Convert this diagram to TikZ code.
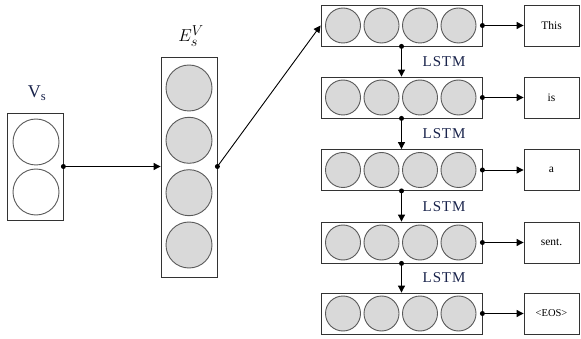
\documentclass[tikz,border=0pt]{standalone}
\usepackage{fontspec}
\setmainfont{Liberation Serif}
\usetikzlibrary{arrows.meta,calc}
\definecolor{txtblue}{RGB}{25,35,75}
\definecolor{cfill}{RGB}{217,217,217}
\definecolor{cline}{RGB}{90,90,90}
\tikzset{
  frame/.style={draw=black!80, line width=0.8pt, fill=white, inner sep=0pt},
  wcirc/.style={circle, draw=cline, line width=0.9pt, fill=white, minimum size=46pt, inner sep=0pt},
  gcirc/.style={circle, draw=cline, line width=0.9pt, fill=cfill, minimum size=46pt, inner sep=0pt},
  scirc/.style={circle, draw=cline, line width=0.9pt, fill=cfill, minimum size=35pt, inner sep=0pt},
  lbox/.style={frame, minimum width=161pt, minimum height=41pt},
  wbox/.style={frame, minimum width=55pt, minimum height=41pt, font=\fontsize{11.5}{12}\selectfont},
  conn/.style={line width=0.9pt, -{Triangle[length=7pt,width=7pt]}},
  dotc/.style={circle, fill=black, minimum size=5pt, inner sep=0pt},
  lstm/.style={font=\fontsize{15}{16}\selectfont\addfontfeatures{LetterSpace=6}, text=txtblue, inner sep=0pt},
}
\begin{document}
\begin{tikzpicture}[x=1pt,y=-1pt]
\useasboundingbox (0,0) rectangle (581,339);
% V_s
\node[frame, minimum width=56pt, minimum height=107pt] (vsbox) at (35,166.5) {};
\node[wcirc] (vs1) at (36,142) {};
\node[wcirc] (vs2) at (36,192) {};
\node[text=txtblue, font=\fontsize{18}{20}\selectfont] (vslab) at (37,93) {V\textsubscript{s}};
% E_s^V
\node[frame, minimum width=56pt, minimum height=220pt] (ebox) at (189,167) {};
\foreach \i/\y in {1/88,2/140.3,3/192.7,4/245}{
  \node[gcirc] (e\i) at (189,\y) {};
}
\node[font=\fontsize{19}{21}\selectfont] (elab) at (191,36) {$E_s^V$};
% connector Vs -> E
\node[dotc] (d0) at (vsbox.east) {};
\draw[conn] (d0.center) -- (ebox.west |- d0);
\node[dotc] (d1) at (ebox.east |- d0) {};
% LSTM boxes
\foreach \i/\y/\w in {1/25.5/This,2/97.5/is,3/170/a,4/242.5/sent.,5/313.5/{\fontsize{10.5}{12}\selectfont<EOS>}}{
  \node[lbox] (l\i) at (401.5,\y) {};
  \foreach \j/\x in {1/343,2/381.5,3/420,4/458.5}{
    \node[scirc] (c\i\j) at (\x,\y) {};
  }
  \node[wbox] (w\i) at (551.5,\y) {\w};
  \node[dotc] (r\i) at (l\i.east) {};
  \draw[conn] (r\i.center) -- (w\i.west);
}
\draw[conn] (d1.center) -- (l1.west);
\foreach \i/\k in {1/2,2/3,3/4,4/5}{
  \node[dotc] (b\i) at (l\i.south) {};
  \draw[conn] (b\i.center) -- (l\k.north);
  \node[lstm, anchor=west] (t\i) at ($(l\i.south)!0.5!(l\k.north) + (21,0)$) {LSTM};
}
\end{tikzpicture}
\end{document}
